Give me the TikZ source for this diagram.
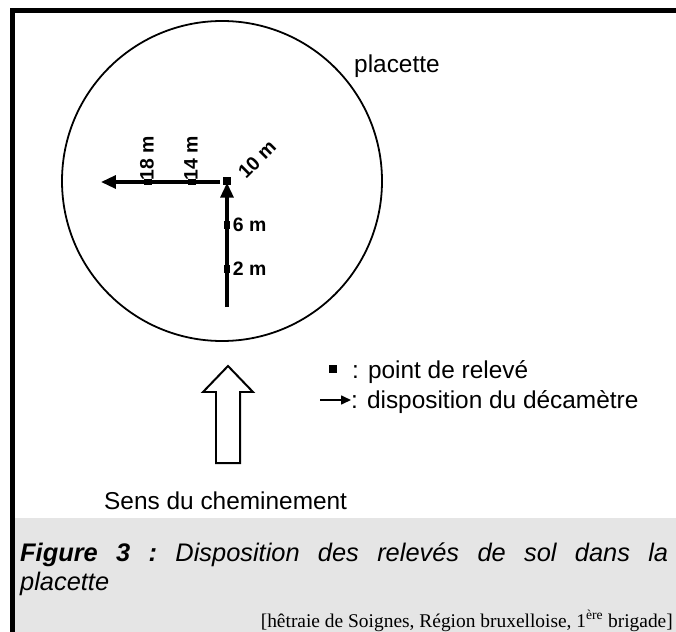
\documentclass[tikz,border=0pt]{standalone}
\usepackage{fontspec}
\setmainfont{Liberation Sans}
\newfontfamily\timesfont{Liberation Serif}
\usetikzlibrary{arrows.meta,positioning,backgrounds}

\begin{document}
\begin{tikzpicture}[
    x=1bp, y=-1bp,
    releve/.style={rectangle, fill=black, minimum width=7pt, minimum height=8pt, inner sep=0pt},
    tape/.style={line width=3.3pt, -{Triangle[length=15pt,width=13pt]}},
    dist/.style={font=\bfseries\fontsize{19.5}{21}\selectfont, inner sep=1pt},
    txt/.style={font=\fontsize{24.5}{28}\selectfont, inner sep=0pt}
]
\useasboundingbox (0,0) rectangle (676,632);
\fill[white] (0,0) rectangle (676,632);

% Frame and caption background
\fill[black!10] (15,518) rectangle (676,632);
\fill[black] (10,8) rectangle (676,13);
\fill[black] (10,8) rectangle (15,632);

% Plot
\node[draw, circle, line width=1.8pt, minimum size=320bp, inner sep=0pt] (plot) at (222,181) {};
\node[txt, anchor=base west] (plotname) at (354,73) {placette};

% Survey points
\node[releve, minimum width=9pt, minimum height=9pt] (sq10) at (227,181) {};
\node[releve] (sq6) at (227,225) {};
\node[releve] (sq2) at (227,269) {};
\node[releve, minimum width=8pt, minimum height=7pt] (sq14) at (192,182) {};
\node[releve, minimum width=8pt, minimum height=7pt] (sq18) at (148,182) {};
\coordinate (start) at (227,307);
\coordinate (end) at (101,182);

% Tape layout
\draw[tape] (start) -- ([yshift=3pt]sq10.south);
\draw[tape] (220,182) -- (end);

% Distances
\node[dist, anchor=west] at ([xshift=1pt]sq6.east) {6 m};
\node[dist, anchor=west] at ([xshift=1pt]sq2.east) {2 m};
\node[dist, anchor=west, rotate=90] at ([xshift=-1pt,yshift=-3pt]sq18.north) {18 m};
\node[dist, anchor=west, rotate=90] at ([xshift=-1pt,yshift=-3pt]sq14.north) {14 m};
\node[dist, anchor=base west, rotate=45, inner sep=0pt] at (246,180) {10 m};

% Walking direction
\draw[line width=2pt, line join=miter] (228,366) -- (253,392) -- (240,392) -- (240,463)
    -- (216,463) -- (216,392) -- (203,392) -- cycle;
\node[txt, anchor=base west] (walk) at (104,509) {Sens du cheminement};

% Legend
\node[releve, minimum width=8pt, minimum height=8pt] (keypt) at (333,369) {};
\node[txt, anchor=base west] (keypttxt) at (352,378) {: point de relevé};
\coordinate (keystart) at (320,400);
\node[txt, anchor=base west] (keytapetxt) at (351,408) {: disposition du décamètre};
\draw[line width=1.6pt, -{Triangle[length=10pt,width=9pt]}] (keystart) -- (keytapetxt.west |- keystart);

% Caption
\node[anchor=north west, text width=648bp, align=justify, inner sep=0pt,
      font=\itshape\fontsize{25.5}{29}\selectfont] (caption) at (20,543)
    {\frenchspacing\textbf{Figure 3 :} Disposition des relevés de sol dans la\linebreak placette};
\node[anchor=base east, inner sep=0pt, font=\timesfont\fontsize{19.5}{21}\selectfont] (source) at (673,627)
    {[hêtraie de Soignes, Région bruxelloise, 1\textsuperscript{ère} brigade]};
\end{tikzpicture}
\end{document}
